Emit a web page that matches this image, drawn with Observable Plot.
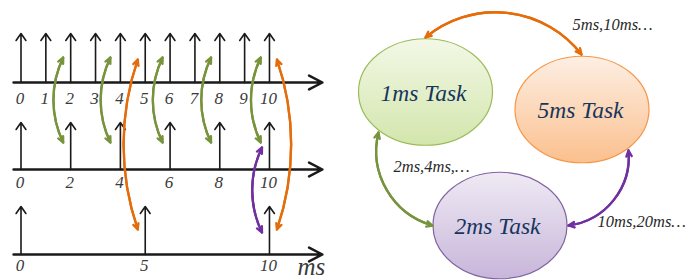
<!DOCTYPE html>
<html><head><meta charset="utf-8">
<script src="https://cdn.jsdelivr.net/npm/d3@7"></script>
<script src="https://cdn.jsdelivr.net/npm/@observablehq/plot@0.6"></script>
<style>
html,body{margin:0;padding:0;background:#fff;}
#chart{display:flex;width:690px;height:280px;overflow:hidden;background:#fff;}
#chart svg{display:block;}
</style></head><body><div id="chart"></div>
<script>
// ---------------- data ----------------
const row1Ticks = [0, 1, 2, 3, 4, 5, 6, 7, 8, 9, 10];   // 1ms task releases
const row2Ticks = [0, 2, 4, 6, 8, 10];                  // 2ms task releases
const row3Ticks = [0, 5, 10];                           // 5ms task releases
const greenLinkMs = [1.7, 3.6, 5.7, 7.65, 9.65];        // 1ms row <-> 2ms row
const orangeLinkMs = [4.7, 10.3];                       // 1ms row <-> 5ms row
const purpleLinkMs = [9.7];                             // 2ms row <-> 5ms row
const axisUnit = "ms";
const taskNames = ["1ms Task", "5ms Task", "2ms Task"];
const linkLabels = ["5ms,10ms…", "2ms,4ms,…", "10ms,20ms…"];

// ---------------- layout ----------------
const rowAxisY = [82, 169, 254];
const rowTopY = [33, 122, 206];
const rowLabelY = [98, 182, 265];
const serif = "'Liberation Serif', serif";
const GREEN = "#77933c", ORANGE = "#e46c0a", PURPLE = "#7030a0";

const rows = [row1Ticks, row2Ticks, row3Ticks];
const ticks = rows.flatMap((t, r) => t.map(ms => ({ms, row: r})));

// double-headed curved arrow: two arrows over the same arc
function dbl(data, opts, bend) {
  const common = {stroke: opts.stroke, strokeWidth: 2.3, headLength: 4.2, headAngle: 50, ariaLabel: "link"};
  return [
    Plot.arrow(data, {...common, x1: opts.x1, y1: opts.y1, x2: opts.x2, y2: opts.y2, bend}),
    Plot.arrow(data, {...common, x1: opts.x2, y1: opts.y2, x2: opts.x1, y2: opts.y1, bend: -bend})
  ];
}

const left = Plot.plot({
  width: 345, height: 280, margin: 0,
  x: {domain: [-0.825, 13.06], range: [0, 345], axis: null},
  y: {domain: [0, 280], range: [0, 280], axis: null},
  style: {background: "transparent", overflow: "visible", fontFamily: serif},
  marks: [
    Plot.arrow(rows, {x1: () => -0.3, x2: () => 12.13, y1: (d, i) => rowAxisY[i], y2: (d, i) => rowAxisY[i],
      stroke: "#1a1a1a", strokeWidth: 2.5, headLength: 9, headAngle: 55}),
    Plot.arrow(ticks, {x: "ms", y1: d => rowAxisY[d.row], y2: d => rowTopY[d.row],
      stroke: "#1a1a1a", strokeWidth: 1.6, headLength: 8, headAngle: 70}),
    Plot.text(ticks, {x: "ms", y: d => rowLabelY[d.row], dx: -1, text: d => String(d.ms),
      fontFamily: serif, fontStyle: "italic", fontSize: 17, fill: "#3a3a3a"}),
    Plot.text([axisUnit], {x: () => 11.13, y: () => 266, text: d => d, textAnchor: "start",
      fontFamily: serif, fontStyle: "italic", fontSize: 25, fill: "#3a3a3a"}),
    ...dbl(greenLinkMs, {x1: d => d, x2: d => d, y1: () => 57, y2: () => 142, stroke: GREEN}, -26),
    ...dbl(orangeLinkMs.slice(0, 1), {x1: d => d, x2: d => d, y1: () => 59, y2: () => 229, stroke: ORANGE}, -19),
    ...dbl(orangeLinkMs.slice(1), {x1: d => d, x2: d => d, y1: () => 59, y2: () => 229, stroke: ORANGE}, 19),
    ...dbl(purpleLinkMs, {x1: d => d, x2: d => d, y1: () => 147, y2: () => 232, stroke: PURPLE}, -26)
  ]
});

// ---------------- right panel ----------------
const taskX = [425, 581.5, 499.5];
const taskY = [91.5, 109, 225];
const taskTextX = [423, 580, 497];
const taskTextY = [93.2, 109.8, 225.5];
const taskFill = ["url(#gGreen)", "url(#gOrange)", "url(#gPurple)"];
const taskStroke = ["#9bbb59", "#f79646", "#8064a2"];
const labelX = [572, 393, 597];
const labelY = [24.7, 165.8, 221.7];

const arcOrange = [{x1: 425, y1: 37, x2: 581, y2: 54}];
const arcGreen = [{x1: 378, y1: 132, x2: 432, y2: 225}];
const arcPurple = [{x1: 628, y1: 150, x2: 568, y2: 225}];
const P = {x1: "x1", y1: "y1", x2: "x2", y2: "y2"};

const ellipseSymbol = {
  draw(context, size) {
    const rx = Math.sqrt(size / Math.PI), ry = rx * 0.795, k = 0.5523;
    context.moveTo(rx, 0);
    context.bezierCurveTo(rx, ry * k, rx * k, ry, 0, ry);
    context.bezierCurveTo(-rx * k, ry, -rx, ry * k, -rx, 0);
    context.bezierCurveTo(-rx, -ry * k, -rx * k, -ry, 0, -ry);
    context.bezierCurveTo(rx * k, -ry, rx, -ry * k, rx, 0);
    context.closePath();
  }
};

const right = Plot.plot({
  width: 345, height: 280, margin: 0,
  x: {domain: [345, 690], range: [0, 345], axis: null},
  y: {domain: [0, 280], range: [0, 280], axis: null},
  color: {type: "identity"},
  style: {background: "transparent", overflow: "visible", fontFamily: serif},
  marks: [
    Plot.dot(taskNames, {x: (d, i) => taskX[i], y: (d, i) => taskY[i], r: 67, symbol: ellipseSymbol,
      fill: (d, i) => taskFill[i], stroke: (d, i) => taskStroke[i], strokeWidth: 1.2, ariaLabel: "ellipse"}),
    Plot.text(taskNames, {x: (d, i) => taskTextX[i], y: (d, i) => taskTextY[i], text: d => d,
      fontFamily: serif, fontStyle: "italic", fontSize: 23.5, fill: "#17365d"}),
    ...dbl(arcOrange, {...P, stroke: ORANGE}, 46),
    ...dbl(arcGreen, {...P, stroke: GREEN}, -44),
    ...dbl(arcPurple, {...P, stroke: PURPLE}, 44),
    Plot.text(linkLabels, {x: (d, i) => labelX[i], y: (d, i) => labelY[i], text: d => d, textAnchor: "start",
      fontFamily: serif, fontStyle: "italic", fontSize: 16.5, fill: "#2a2a2a"})
  ]
});

// gradient + shadow definitions
const defs = d3.select(right).insert("defs", ":first-child");
const grads = [["gGreen", "#f3f8e6", "#d3e6ad"], ["gOrange", "#fdefe4", "#fbc08e"], ["gPurple", "#efeaf4", "#c8b6da"]];
for (const [id, a, b] of grads) {
  const g = defs.append("linearGradient").attr("id", id).attr("x1", 0).attr("y1", 0).attr("x2", 0).attr("y2", 1);
  g.append("stop").attr("offset", "0%").attr("stop-color", a);
  g.append("stop").attr("offset", "100%").attr("stop-color", b);
}
defs.append("filter").attr("id", "shadow").attr("x", "-20%").attr("y", "-20%").attr("width", "140%").attr("height", "150%")
  .append("feDropShadow").attr("dx", 1.5).attr("dy", 3).attr("stdDeviation", 3)
  .attr("flood-color", "#000").attr("flood-opacity", 0.18);
d3.select(right).selectAll('g[aria-label="ellipse"]').attr("filter", "url(#shadow)");

// fill the arrowheads of the curved links (the reference uses solid triangular heads)
for (const svg of [left, right]) {
  d3.select(svg).selectAll('g[aria-label="link"] path').each(function () {
    const p = d3.select(this);
    const d = p.attr("d");
    const k = d.lastIndexOf("M");
    if (k <= 0) return;
    const color = p.attr("stroke") || d3.select(this.parentNode).attr("stroke");
    d3.select(this.parentNode).append("path")
      .attr("d", d.slice(k) + "Z")
      .attr("fill", color).attr("stroke", color)
      .attr("stroke-linejoin", "miter").attr("stroke-width", 1.2);
  });
}

const chart = document.getElementById("chart");
chart.append(left, right);
</script>
</body></html>
